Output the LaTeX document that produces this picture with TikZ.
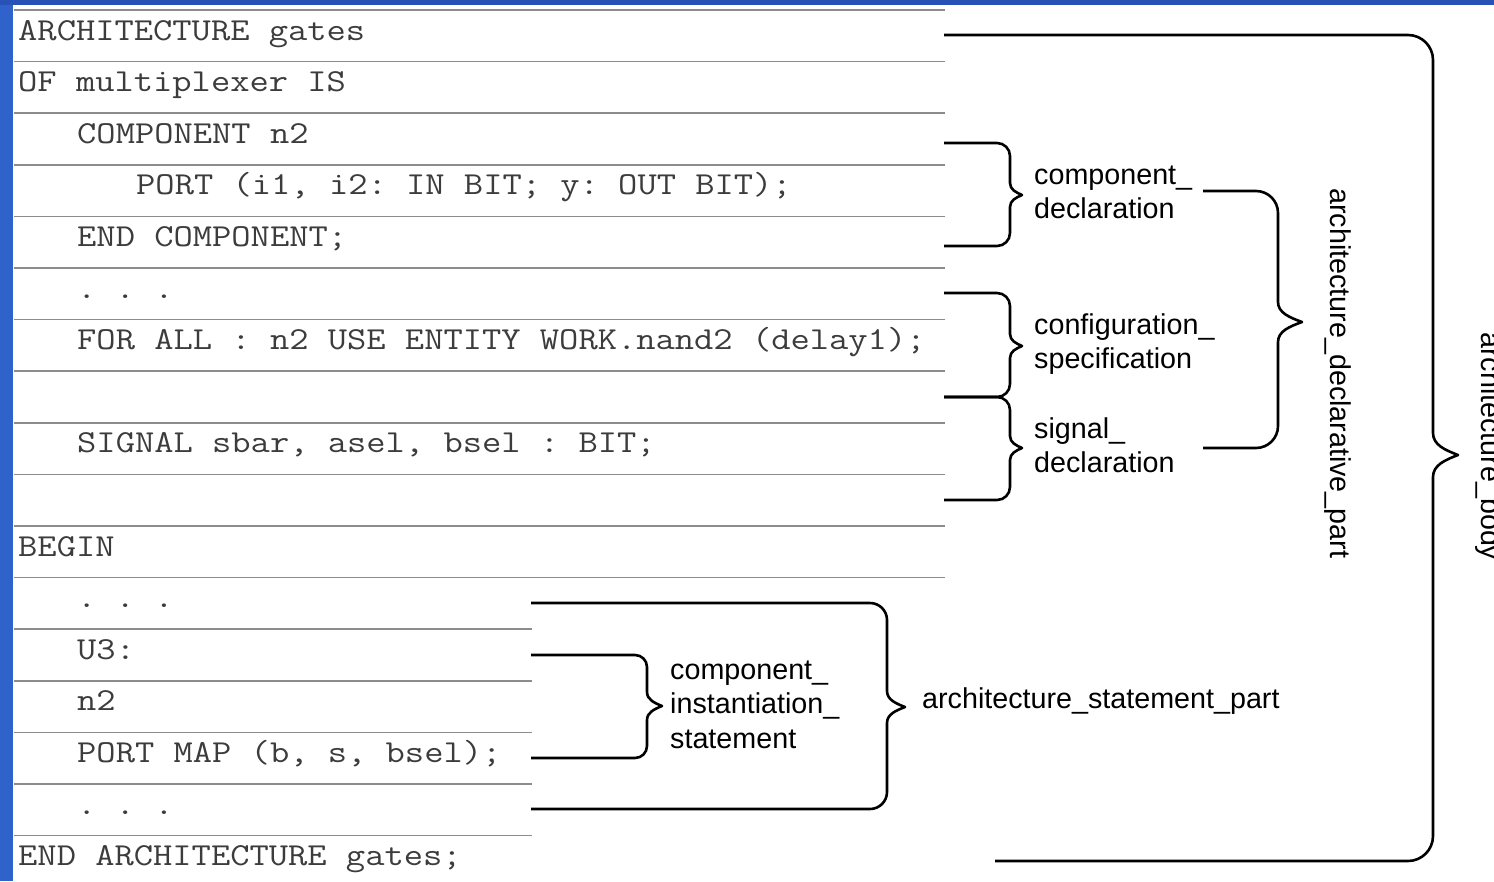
\documentclass[tikz,border=0pt]{standalone}
\usepackage{fontspec}
\setsansfont{Liberation Sans}
\usepackage{graphicx}

\definecolor{leftblue}{RGB}{48,98,204}
\definecolor{topblue}{RGB}{40,82,182}
\definecolor{rulegray}{RGB}{140,140,140}
\definecolor{codegray}{RGB}{60,60,60}

% monospace listing text, slightly widened to Courier proportions
\newcommand\codefont{\ttfamily\fontsize{32}{38}\selectfont\frenchspacing}
\newcommand\cd[1]{\scalebox{1.17}[1]{#1}}
\newcommand\lblfont{\sffamily\fontsize{28.7}{34.6}\selectfont}
\newcommand\stack[1]{\begin{tabular}[t]{@{}l@{}}#1\end{tabular}}

% curly bracket: arm-top x, top y, arm-bottom x, bottom y,
% spine x, tip x, tip y, corner radius, half height of the tip
\newcommand\codebrace[9]{%
  \draw[bracket] (#1,#2) -- ({#5-#8},#2)
    .. controls ({#5-0.448*#8},#2) and (#5,{#2+0.448*#8}) .. (#5,{#2+#8})
    -- (#5,{#7-#9})
    .. controls (#5,{#7-0.45*#9}) and ({#5+0.5*(#6-#5)},{#7-0.22*#9}) .. (#6,#7)
    .. controls ({#5+0.5*(#6-#5)},{#7+0.22*#9}) and (#5,{#7+0.45*#9}) .. (#5,{#7+#9})
    -- (#5,{#4-#8})
    .. controls (#5,{#4-0.448*#8}) and ({#5-0.448*#8},#4) .. ({#5-#8},#4)
    -- (#3,#4);}

\begin{document}
\begin{tikzpicture}[x=1pt,y=-1pt,
  rule/.style={draw=rulegray,line width=1.7pt},
  code/.style={anchor=base west,inner sep=0pt,text=codegray,font=\codefont},
  lbl/.style={anchor=base west,inner sep=0pt,text=black,font=\lblfont},
  bracket/.style={draw=black,line width=2.6pt,line join=round}]

\useasboundingbox (0,0) rectangle (1494,881);
\fill[white] (0,0) rectangle (1494,881);
\fill[leftblue] (0,0) rectangle (12.5,881);
\fill[topblue] (0,0) rectangle (1494,5);

% row separators of the listing
\foreach \k in {0,...,11}
  \draw[rule] (14,{10+51.6*\k}) -- (945,{10+51.6*\k});
\foreach \k in {12,...,16}
  \draw[rule] (14,{10+51.6*\k}) -- (532,{10+51.6*\k});

% listing
\node[code] (r0)  at (18,40)     {\cd{ARCHITECTURE gates}};
\node[code] (r1)  at (18,91.6)   {\cd{OF multiplexer IS}};
\node[code] (r2)  at (77,143.2)  {\cd{COMPONENT n2}};
\node[code] (r3)  at (136,194.8) {\cd{PORT (i1, i2: IN BIT; y: OUT BIT);}};
\node[code] (r4)  at (77,246.4)  {\cd{END COMPONENT;}};
\node[code] (r5)  at (77,298)    {\cd{. . .}};
\node[code] (r6)  at (77,349.6)  {\cd{FOR ALL : n2 USE ENTITY WORK.nand2 (delay1);}};
\node[code] (r8)  at (77,452.8)  {\cd{SIGNAL sbar, asel, bsel : BIT;}};
\node[code] (r10) at (18,556)    {\cd{BEGIN}};
\node[code] (r11) at (77,607.6)  {\cd{. . .}};
\node[code] (r12) at (77,659.2)  {\cd{U3:}};
\node[code] (r13) at (77,710.8)  {\cd{n2}};
\node[code] (r14) at (77,762.4)  {\cd{PORT MAP (b, s, bsel);}};
\node[code] (r15) at (77,814)    {\cd{. . .}};
\node[code] (r16) at (18,865.6)  {\cd{END ARCHITECTURE gates;}};

% brackets
\codebrace{944}{143}{944}{246}{1010}{1022}{195}{13}{12}
\codebrace{944}{293}{944}{397}{1010}{1022}{346}{13}{12}
\codebrace{944}{397}{944}{500}{1010}{1022}{448}{13}{12}
\codebrace{1203}{191}{1203}{448}{1278}{1302}{322}{22}{20}
\codebrace{944}{35}{995}{861}{1433}{1458}{455}{25}{22}
\codebrace{531}{655}{531}{758}{647}{662}{706}{12}{14}
\codebrace{531}{603}{531}{809}{887}{905}{707}{17}{16}

% labels
\node[lbl] (compdecl) at (1034,184) {\stack{component\_\\declaration}};
\node[lbl] (confspec) at (1034,334) {\stack{configuration\_\\specification}};
\node[lbl] (sigdecl)  at (1034,438) {\stack{signal\_\\declaration}};
\node[lbl] (compinst) at (670,679)  {\stack{component\_\\instantiation\_\\statement}};
\node[lbl] (stmtpart) at (922,708)  {architecture\_statement\_part};
\node[lbl,rotate=-90] (declpart) at (1330,188) {architecture\_declarative\_part};
\node[lbl,rotate=-90] (archbody) at (1481,332) {architecture\_body};
\end{tikzpicture}
\end{document}
